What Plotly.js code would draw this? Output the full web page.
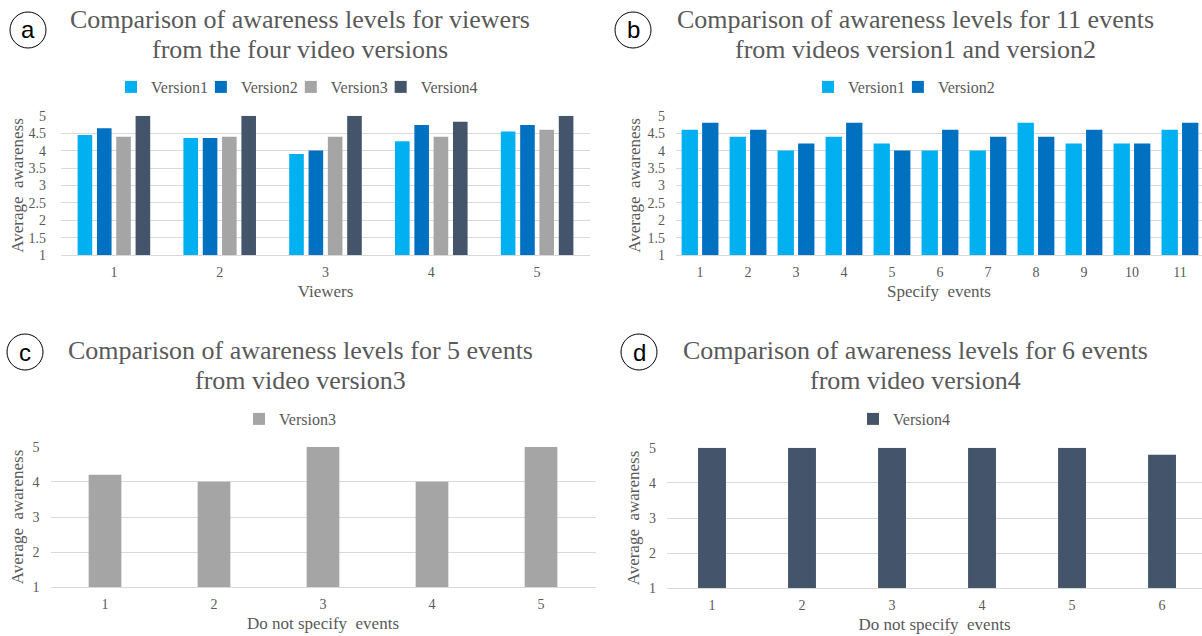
<!DOCTYPE html>
<html><head><meta charset="utf-8">
<script src="https://cdn.plot.ly/plotly-3.0.1.min.js"></script>
<style>html,body{margin:0;padding:0;background:#fff;overflow:hidden}#chart{width:1202px;height:636px}</style>
</head><body><div id="chart"></div>
<script>
// ---- data ----
const viewers = ['1', '2', '3', '4', '5'];
const aVersion1 = [4.45, 4.36, 3.9, 4.27, 4.55];
const aVersion2 = [4.64, 4.36, 4.0, 4.73, 4.73];
const aVersion3 = [4.4, 4.4, 4.4, 4.4, 4.6];
const aVersion4 = [5, 5, 5, 4.83, 5];

const specifyEvents = ['1', '2', '3', '4', '5', '6', '7', '8', '9', '10', '11'];
const bVersion1 = [4.6, 4.4, 4.0, 4.4, 4.2, 4.0, 4.0, 4.8, 4.2, 4.2, 4.6];
const bVersion2 = [4.8, 4.6, 4.2, 4.8, 4.0, 4.6, 4.4, 4.4, 4.6, 4.2, 4.8];

const eventsV3 = ['1', '2', '3', '4', '5'];
const cVersion3 = [4.2, 4.0, 5, 4.0, 5];

const eventsV4 = ['1', '2', '3', '4', '5', '6'];
const dVersion4 = [5, 5, 5, 5, 5, 4.8];

const seriesNames = ['Version1', 'Version2', 'Version3', 'Version4'];
const titles = {
  a: ['Comparison of awareness levels for viewers', 'from the four video versions'],
  b: ['Comparison of awareness levels for 11 events', 'from videos version1 and version2'],
  c: ['Comparison of awareness levels for 5 events', 'from video version3'],
  d: ['Comparison of awareness levels for 6 events', 'from video version4']
};
const yTitle = 'Average  awareness';
const xTitles = ['Viewers', 'Specify  events', 'Do not specify  events', 'Do not specify  events'];

// ---- style ----
const W = 1202, H = 636;
const X = p => p / W;
const Y = p => 1 - p / H;
const SERIF = 'Liberation Serif, Times New Roman, serif';
const GREY = '#595959';
const GRID = '#d9d9d9';
const colors = ['#00b0f0', '#0070c0', '#a5a5a5', '#44546a'];

function bar(x, y, i, xa, ya, leg, offset, width) {
  return {type: 'bar', x: x, y: y, name: seriesNames[i], xaxis: xa, yaxis: ya, legend: leg,
    offset: offset, width: width, marker: {color: colors[i], line: {width: 0}}, hoverinfo: 'x+y+name'};
}

const data = [
  bar(viewers, aVersion1, 0, 'x', 'y', 'legend', -0.343, 0.138),
  bar(viewers, aVersion2, 1, 'x', 'y', 'legend', -0.160, 0.138),
  bar(viewers, aVersion3, 2, 'x', 'y', 'legend', 0.022, 0.138),
  bar(viewers, aVersion4, 3, 'x', 'y', 'legend', 0.205, 0.138),
  bar(specifyEvents, bVersion1, 0, 'x2', 'y2', 'legend2', -0.383, 0.34),
  bar(specifyEvents, bVersion2, 1, 'x2', 'y2', 'legend2', 0.044, 0.34),
  bar(eventsV3, cVersion3, 2, 'x3', 'y3', 'legend3', -0.15, 0.30),
  bar(eventsV4, dVersion4, 3, 'x4', 'y4', 'legend4', -0.155, 0.31)
];

function xax(dom, range, title, ya) {
  return {domain: dom, anchor: ya, type: 'category', range: range, showgrid: false, zeroline: false,
    showline: true, linecolor: GRID, linewidth: 1, ticks: '', ticklabelstandoff: 4,
    tickfont: {family: SERIF, size: 14, color: GREY},
    title: {text: title, font: {family: SERIF, size: 17, color: GREY}, standoff: 6}, fixedrange: true};
}
function yax(dom, dtick, xa, standoff, titleStandoff) {
  return {domain: dom, anchor: xa, range: [1, 5], dtick: dtick, showgrid: true, gridcolor: GRID, gridwidth: 1,
    zeroline: false, showline: false, ticks: '', ticklabelstandoff: standoff,
    tickfont: {family: SERIF, size: 14, color: GREY},
    title: {text: yTitle, font: {family: SERIF, size: 17, color: GREY}, standoff: titleStandoff}, fixedrange: true};
}
function legend(left, cy) {
  return {orientation: 'h', x: X(left), y: Y(cy), xanchor: 'left', yanchor: 'middle', indentation: -12,
    font: {family: SERIF, size: 16, color: GREY}, bgcolor: 'rgba(0,0,0,0)', itemclick: false, itemdoubleclick: false};
}

const annotations = [];
const shapes = [];
function titleLines(lines, cx, y1, y2) {
  [y1, y2].forEach((py, k) => annotations.push({xref: 'paper', yref: 'paper', x: X(cx), y: Y(py),
    xanchor: 'center', yanchor: 'middle', showarrow: false, text: lines[k],
    font: {family: SERIF, size: 26, color: GREY}}));
}
function badge(letter, cx, cy) {
  shapes.push({type: 'circle', xref: 'paper', yref: 'paper', xsizemode: 'pixel', ysizemode: 'pixel',
    xanchor: X(cx), yanchor: Y(cy), x0: -18, x1: 18, y0: -18, y1: 18, line: {color: '#000', width: 1}});
  annotations.push({xref: 'paper', yref: 'paper', x: X(cx), y: Y(cy), xanchor: 'center', yanchor: 'middle',
    showarrow: false, text: letter, font: {family: 'Liberation Sans, Arial, sans-serif', size: 24, color: '#000'}});
}
titleLines(titles.a, 300, 20, 50);
titleLines(titles.b, 915, 20, 50);
titleLines(titles.c, 300, 350, 380);
titleLines(titles.d, 915, 350, 380);
badge('a', 28, 30);
badge('b', 633, 30);
badge('c', 25, 352);
badge('d', 639, 352);

const layout = {
  width: W, height: H, margin: {l: 0, r: 0, t: 0, b: 0}, paper_bgcolor: '#fff', plot_bgcolor: '#fff',
  barmode: 'overlay', showlegend: true,
  xaxis: xax([X(61), X(590)], [-0.5, 4.5], xTitles[0], 'y'),
  yaxis: yax([Y(255.3), Y(115.7)], 0.5, 'x', 14, 0),
  xaxis2: xax([X(676), 1], [-0.5, 10.46], xTitles[1], 'y2'),
  yaxis2: yax([Y(255.3), Y(115.7)], 0.5, 'x2', 10, 2),
  xaxis3: xax([X(50.5), X(595.5)], [-0.5, 4.5], xTitles[2], 'y3'),
  yaxis3: yax([Y(587.3), Y(446.7)], 1, 'x3', 10, 4),
  xaxis4: xax([X(667), 1], [-0.5, 5.444], xTitles[3], 'y4'),
  yaxis4: yax([Y(588.3), Y(447.7)], 1, 'x4', 10, 5),
  legend: legend(123, 87),
  legend2: legend(820, 87),
  legend3: legend(251, 419),
  legend4: legend(865, 419),
  annotations: annotations,
  shapes: shapes
};

Plotly.newPlot('chart', data, layout, {displayModeBar: false, responsive: false});
</script></body></html>
